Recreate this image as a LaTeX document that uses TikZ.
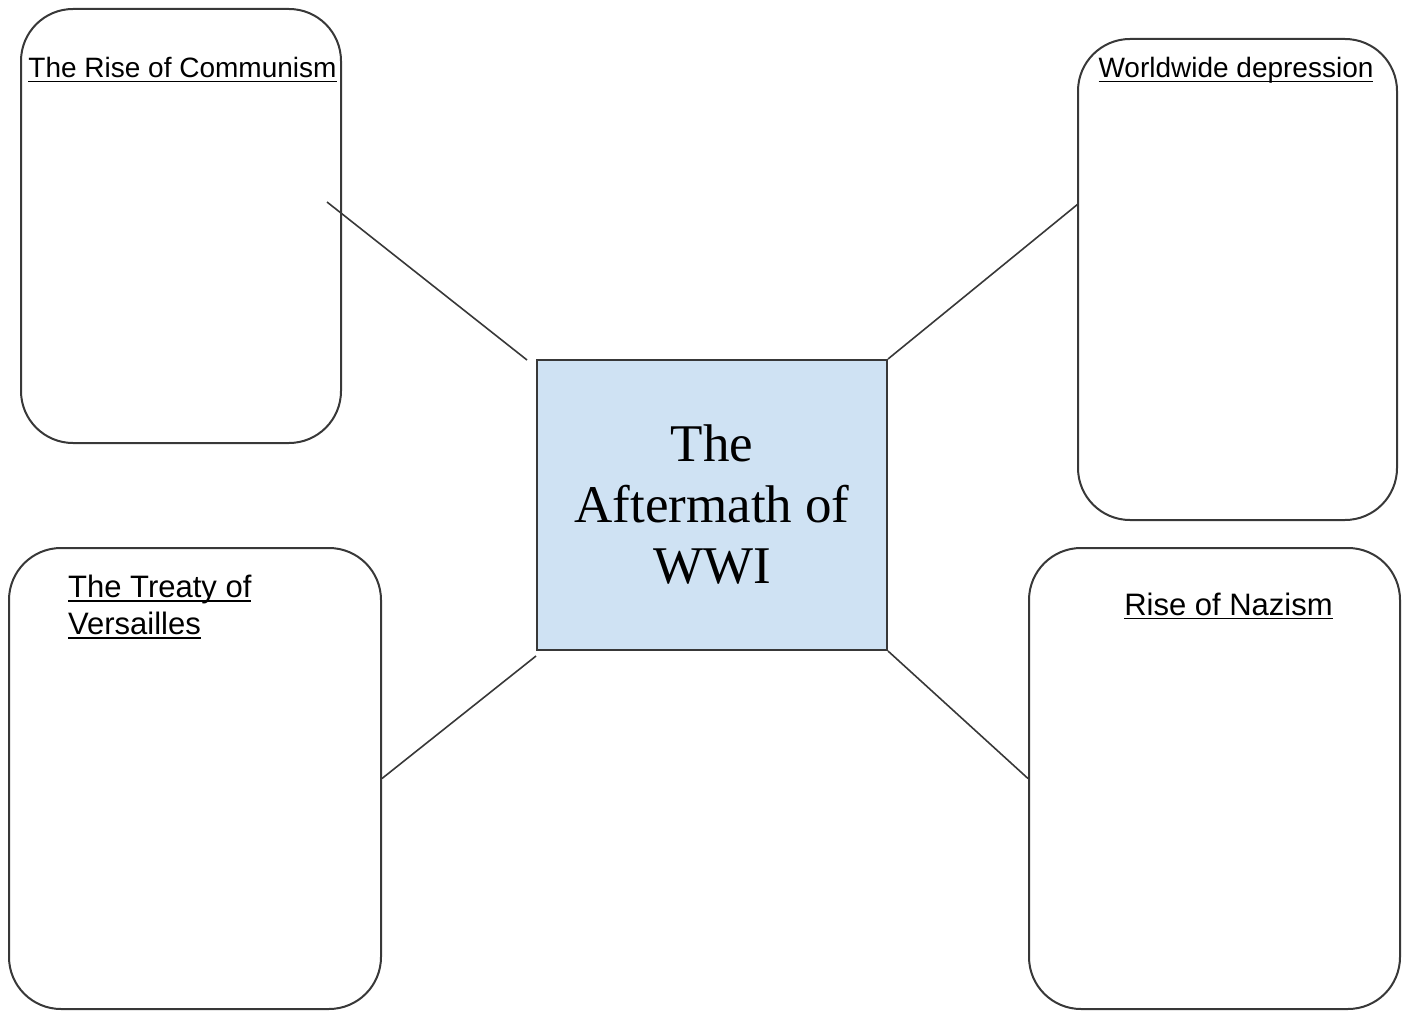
\documentclass[tikz,border=0pt]{standalone}
\usepackage{fontspec}
\usetikzlibrary{positioning}
\newfontfamily\topicfont{Liberation Sans}
\newfontfamily\hubfont{Liberation Serif}
\definecolor{hubfill}{HTML}{CFE2F3}
\definecolor{inkgray}{HTML}{383838}
\newsavebox{\headbox}
\newcommand{\headline}[1]{\sbox{\headbox}{#1}\rlap{\rule[-4.2pt]{\wd\headbox}{1.6pt}}\usebox{\headbox}}

\begin{document}
\begin{tikzpicture}[x=1pt,y=-1pt,
    topic/.style={draw=inkgray, line width=2pt, rounded corners=52pt, inner sep=0pt},
    hub/.style={draw=inkgray, line width=2pt, fill=hubfill, inner sep=0pt, align=center,
                font=\hubfont\fontsize{53}{61}\selectfont},
    heading/.style={inner sep=0pt, font=\topicfont\fontsize{28}{37}\selectfont},
    bigheading/.style={heading, font=\topicfont\fontsize{31}{37}\selectfont},
    link/.style={draw=inkgray, line width=1.6pt}]
  \useasboundingbox (0,0) rectangle (1403,1011);

  \node[hub, minimum width=350pt, minimum height=290pt]   (aftermath) at (712,505)    {The\\Aftermath of\\WWI};
  \node[topic, minimum width=320pt, minimum height=434pt] (communism) at (181,226)    {};
  \node[topic, minimum width=319pt, minimum height=481pt] (depression) at (1237.5,279.5) {};
  \node[topic, minimum width=372pt, minimum height=461pt] (treaty)    at (195,778.5)  {};
  \node[topic, minimum width=371pt, minimum height=461pt] (nazism)    at (1214.5,778.5) {};

  \node[heading, anchor=base] (communismhead) at (182.5,78) {\headline{The Rise of Communism}};
  \node[heading, anchor=base] (depressionhead) at (1236,78) {\headline{Worldwide depression}};
  \node[bigheading, anchor=north west, align=left] (treatyhead) at (68,575) {\headline{The Treaty of}\\\headline{Versailles}};
  \node[bigheading, anchor=base] (nazismhead) at (1228.5,615) {\headline{Rise of Nazism}};

  \coordinate (communismtip) at (327,202);
  \coordinate (hubtip)       at (527,360);
  \coordinate (depressiontip) at (1078,204);

  \draw[link] (communismtip) -- (hubtip);
  \draw[link] (aftermath.north east) -- (depressiontip);
  \draw[link] ([yshift=-5pt]aftermath.south west) -- (treaty.east);
  \draw[link] (aftermath.south east) -- (nazism.west);
\end{tikzpicture}
\end{document}
